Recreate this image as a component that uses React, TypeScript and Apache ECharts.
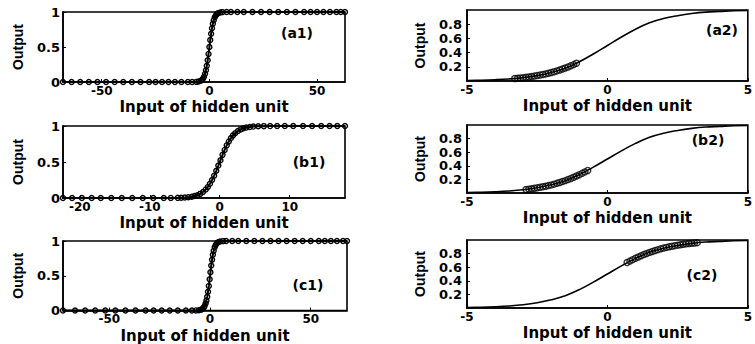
import React, { useEffect, useRef } from "react";
import * as echarts from "echarts";

// Sigmoid curve
const curveX = [-5, -4.5, -4, -3.5, -3, -2.5, -2, -1.5, -1, -0.5, 0, 0.5, 1, 1.5, 2, 2.5, 3, 3.5, 4, 4.5, 5];
const curveY = [0.007, 0.011, 0.018, 0.029, 0.047, 0.076, 0.12, 0.18, 0.27, 0.38, 0.5, 0.62, 0.73, 0.82, 0.88, 0.92, 0.95, 0.97, 0.98, 0.99, 0.993];

// (a1)
const a1X = [-68, -64, -60, -56, -52, -48, -44, -40, -36, -32, -28, -25, -22, -19, -16, -13, -10, -8, -6, -5, -4, -3.5, -3, -2.5, -2, -1.6, -1.2, -0.8, -0.4, 0, 0.4, 0.8, 1.2, 1.6, 2, 2.5, 3, 3.5, 4, 5, 6, 8, 10, 13, 16, 20, 24, 28, 32, 36, 40, 44, 47, 50, 53, 56, 59, 61, 63];
const a1Y = [0, 0, 0, 0, 0, 0, 0, 0, 0, 0, 0, 0, 0, 0, 0, 0, 0, 0, 0.002, 0.007, 0.018, 0.029, 0.047, 0.076, 0.119, 0.168, 0.231, 0.31, 0.401, 0.5, 0.599, 0.69, 0.769, 0.832, 0.881, 0.924, 0.953, 0.971, 0.982, 0.993, 0.998, 1, 1, 1, 1, 1, 1, 1, 1, 1, 1, 1, 1, 1, 1, 1, 1, 1, 1];

// (b1)
const b1X = [-22.4, -21.1, -19.7, -18.3, -17, -15.5, -14, -12.5, -11, -9.5, -8, -7, -6, -5.5, -5, -4.5, -4, -3.6, -3.2, -2.8, -2.4, -2, -1.7, -1.4, -1.1, -0.8, -0.5, -0.2, 0.1, 0.4, 0.7, 1, 1.3, 1.6, 1.9, 2.2, 2.6, 3, 3.4, 3.8, 4.3, 4.8, 5.5, 6.3, 7.2, 8.2, 9.3, 10.5, 11.9, 13.2, 14.5, 15.7, 16.8, 17.9];
const b1Y = [0, 0, 0, 0, 0, 0, 0, 0, 0, 0, 0, 0.001, 0.002, 0.004, 0.007, 0.011, 0.018, 0.027, 0.039, 0.057, 0.083, 0.119, 0.154, 0.198, 0.25, 0.31, 0.378, 0.45, 0.525, 0.599, 0.668, 0.731, 0.786, 0.832, 0.87, 0.9, 0.931, 0.953, 0.968, 0.978, 0.987, 0.992, 0.996, 0.998, 0.999, 1, 1, 1, 1, 1, 1, 1, 1, 1];

// (c1)
const c1X = [-73, -67, -62, -57, -52, -47, -42, -37, -32, -28, -24, -20, -16, -12, -9, -7, -5.5, -4.5, -3.8, -3.2, -2.7, -2.2, -1.8, -1.4, -1, -0.6, -0.2, 0.2, 0.6, 1, 1.4, 1.8, 2.3, 2.8, 3.4, 4, 5, 6.5, 8, 11, 14, 18, 22, 26, 30, 34, 38, 42, 46, 50, 54, 57, 60, 63, 66, 68];
const c1Y = [0, 0, 0, 0, 0, 0, 0, 0, 0, 0, 0, 0, 0, 0, 0, 0.001, 0.004, 0.011, 0.022, 0.039, 0.063, 0.1, 0.142, 0.198, 0.269, 0.354, 0.45, 0.55, 0.646, 0.731, 0.802, 0.858, 0.909, 0.943, 0.968, 0.982, 0.993, 0.998, 1, 1, 1, 1, 1, 1, 1, 1, 1, 1, 1, 1, 1, 1, 1, 1, 1, 1];

// (a2) circles
const a2X = [-3.3, -3.2, -3.1, -3.0, -2.9, -2.8, -2.7, -2.6, -2.5, -2.4, -2.3, -2.2, -2.1, -2.0, -1.9, -1.8, -1.7, -1.6, -1.5, -1.4, -1.3, -1.2, -1.1];
const a2Y = [0.036, 0.039, 0.043, 0.047, 0.052, 0.057, 0.063, 0.069, 0.076, 0.083, 0.091, 0.1, 0.109, 0.119, 0.13, 0.142, 0.154, 0.168, 0.182, 0.198, 0.214, 0.231, 0.25];

// (b2) circles
const b2X = [-2.9, -2.8, -2.7, -2.6, -2.5, -2.4, -2.3, -2.2, -2.1, -2.0, -1.9, -1.8, -1.7, -1.6, -1.5, -1.4, -1.3, -1.2, -1.1, -1.0, -0.9, -0.8, -0.7];
const b2Y = [0.052, 0.057, 0.063, 0.069, 0.076, 0.083, 0.091, 0.1, 0.109, 0.119, 0.13, 0.142, 0.154, 0.168, 0.182, 0.198, 0.214, 0.231, 0.25, 0.269, 0.289, 0.31, 0.332];

// (c2) circles
const c2X = [0.7, 0.8, 0.9, 1.0, 1.1, 1.2, 1.3, 1.4, 1.5, 1.6, 1.7, 1.8, 1.9, 2.0, 2.1, 2.2, 2.3, 2.4, 2.5, 2.6, 2.7, 2.8, 2.9, 3.0, 3.1, 3.2];
const c2Y = [0.668, 0.69, 0.711, 0.731, 0.75, 0.769, 0.786, 0.802, 0.818, 0.832, 0.846, 0.858, 0.87, 0.881, 0.891, 0.9, 0.909, 0.917, 0.924, 0.931, 0.937, 0.943, 0.948, 0.953, 0.957, 0.961];

const leftTicks = {
  a1: [-50, 0, 50],
  b1: [-20, -10, 0, 10],
  c1: [-50, 0, 50],
};
const rightXTicks = [-5, 0, 5];
const rightYTicks = [0.2, 0.4, 0.6, 0.8];
const labels = ["(a1)", "(b1)", "(c1)", "(a2)", "(b2)", "(c2)"];
const xName = "Input of hidden unit";
const yName = "Output";

const zip = (xs: number[], ys: number[]) => xs.map((x, i) => [x, ys[i]]);

const FONT = "DejaVu Sans";

export default function App() {
  const ref = useRef<HTMLDivElement>(null);
  useEffect(() => {
    document.body.style.margin = "0";
    if (!ref.current) return;
    const chart = echarts.init(ref.current, undefined, { renderer: "svg" });

    const grids = [
      { left: 63, top: 12, width: 282, height: 70 },
      { left: 63, top: 126, width: 282, height: 72 },
      { left: 63, top: 241, width: 284, height: 70 },
      { left: 467, top: 10, width: 285, height: 71 },
      { left: 467, top: 125, width: 284, height: 68 },
      { left: 467, top: 240, width: 284, height: 68 },
    ].map((g) => ({ ...g, show: true, borderColor: "#000", borderWidth: 1.6, backgroundColor: "transparent" }));

    const xRanges = [
      [-68, 63],
      [-22.4, 17.9],
      [-73, 68],
      [-5, 5],
      [-5, 5],
      [-5, 5],
    ];
    const xTicks = [leftTicks.a1, leftTicks.b1, leftTicks.c1, rightXTicks, rightXTicks, rightXTicks];

    const axisLine = { show: true, onZero: false, lineStyle: { color: "#000", width: 1.6 } };
    const tickLabel = { color: "#000", fontFamily: FONT, fontWeight: "bold" as const, fontSize: 12, lineHeight: 11 };

    const xAxis = grids.map((_, i) => ({
      type: "value",
      gridIndex: i,
      min: xRanges[i][0],
      max: xRanges[i][1],
      axisLine,
      splitLine: { show: false },
      axisTick: { show: true, inside: true, length: 3, customValues: xTicks[i], lineStyle: { color: "#000" } },
      axisLabel: { ...tickLabel, margin: 3, customValues: xTicks[i], formatter: (v: number) => String(v) },
      name: xName,
      nameLocation: "middle",
      nameGap: 18,
      nameTextStyle: { color: "#000", fontFamily: FONT, fontWeight: "bold", fontSize: 15, lineHeight: 14 },
    }));

    const yAxis = grids.map((_, i) => {
      const right = i >= 3;
      return {
        type: "value",
        gridIndex: i,
        min: 0,
        max: 1,
        interval: right ? 0.2 : 0.5,
        axisLine,
        splitLine: { show: false },
        axisTick: right
          ? { show: true, inside: true, length: 3, customValues: rightYTicks, lineStyle: { color: "#000" } }
          : { show: true, inside: true, length: 3, lineStyle: { color: "#000" } },
        axisLabel: right
          ? { ...tickLabel, fontSize: 13, margin: 5, customValues: rightYTicks, formatter: (v: number) => v.toFixed(1) }
          : { ...tickLabel, fontSize: 13, margin: 3, formatter: (v: number) => String(v) },
        name: yName,
        nameLocation: "middle",
        nameGap: right ? 40 : 38,
        nameTextStyle: { color: "#000", fontFamily: "Liberation Sans", fontWeight: "bold", fontSize: 14 },
      };
    });

    const ring = { color: "rgba(0,0,0,0)", borderColor: "#000", borderWidth: 1.4 };
    const leftData = [zip(a1X, a1Y), zip(b1X, b1Y), zip(c1X, c1Y)];
    const rightData = [zip(a2X, a2Y), zip(b2X, b2Y), zip(c2X, c2Y)];
    const curve = zip(curveX, curveY);

    const series: any[] = [];
    leftData.forEach((d, i) => {
      series.push({
        type: "line",
        xAxisIndex: i,
        yAxisIndex: i,
        data: d,
        symbol: "circle",
        symbolSize: 5,
        showAllSymbol: true,
        clip: false,
        itemStyle: ring,
        lineStyle: { color: "#000", width: 2 },
      });
    });
    rightData.forEach((d, k) => {
      const i = k + 3;
      series.push({
        type: "line",
        xAxisIndex: i,
        yAxisIndex: i,
        data: curve,
        smooth: 0.4,
        symbol: "none",
        lineStyle: { color: "#000", width: 1.6 },
      });
      series.push({
        type: "scatter",
        xAxisIndex: i,
        yAxisIndex: i,
        data: d,
        symbol: "circle",
        symbolSize: 6,
        itemStyle: ring,
      });
    });

    const labelPos = [
      [297, 33],
      [309, 162],
      [308, 285],
      [722, 30],
      [708, 140],
      [702, 275],
    ];
    const graphic = labels.map((t, i) => ({
      type: "text",
      x: labelPos[i][0],
      y: labelPos[i][1],
      style: {
        text: t,
        fill: "#000",
        font: `bold 14px "${FONT}"`,
        textAlign: "center",
        textVerticalAlign: "middle",
      },
    }));

    chart.setOption({
      animation: false,
      backgroundColor: "#fff",
      grid: grids,
      xAxis,
      yAxis,
      series,
      graphic,
    });
    return () => chart.dispose();
  }, []);
  return <div ref={ref} style={{ width: 755, height: 344 }} />;
}
